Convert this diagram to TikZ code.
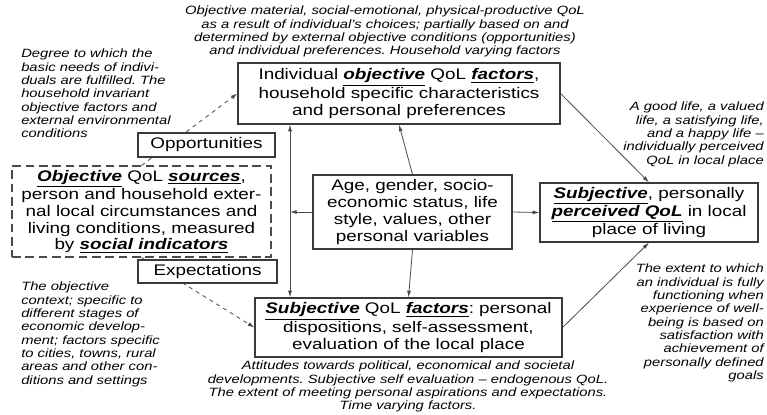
\documentclass[tikz,border=0pt]{standalone}
\usepackage{fontspec}
\setmainfont{Liberation Sans}[FakeStretch=1.23]
\usepackage{tikz}
\usetikzlibrary{arrows.meta}
\usetikzlibrary{positioning}

\definecolor{boxgray}{HTML}{3A3A3A}
\definecolor{linegray}{HTML}{4A4A4A}
\newcommand{\kw}[1]{\underline{\textbf{\textit{#1}}}}
\frenchspacing

\begin{document}
\begin{tikzpicture}[x=0.75pt, y=-0.75pt,
		>={Latex[length=5pt,width=3pt]},
		qolbox/.style={draw=boxgray, line width=0.9pt, fill=white, align=center, inner sep=2pt, font=\fontsize{11.5}{12.6}\selectfont},
		note/.style={inner sep=0pt, font=\fontsize{9}{10}\selectfont\itshape},
		link/.style={draw=linegray, line width=0.6pt, ->}]
				\useasboundingbox (0,0) rectangle (767,414);
				
				\node[qolbox, minimum width=241.5pt, minimum height=45.75pt] (obj) at (399,93.5) {Individual \kw{objective} QoL \kw{factors},\\household specific characteristics\\and personal preferences};
				\node[qolbox, draw=linegray, line width=0.8pt, dash pattern=on 6.5pt off 3.5pt, minimum width=194.25pt, minimum height=68.25pt] (src) at (141.5,211.5) {\kw{Objective} QoL \kw{sources},\\person and household exter-\\nal local circumstances and\\living conditions, measured\\by \kw{social indicators}};
				\node[qolbox, minimum width=149.25pt, minimum height=55.5pt] (age) at (412.5,212) {Age, gender, socio-\\economic status, life\\style, values, other\\personal variables};
				\node[qolbox, minimum width=163.5pt, minimum height=44.25pt] (perc) at (649,212.5) {\kw{Subjective}, personally\\\kw{perceived QoL} in local\\place of living};
				\node[qolbox, minimum width=230.25pt, minimum height=44.25pt] (subj) at (408.5,327.5) {\kw{Subjective} QoL \kw{factors}: personal\\dispositions, self-assessment,\\evaluation of the local place};
				\coordinate (vx) at (290,0);
				
				\draw[link, dashed] (src.north) -- (obj.west);
				\draw[link, dashed] (src.south) -- (subj.west);
				\node[qolbox, minimum width=102.75pt, minimum height=18pt] (opp) at (206.5,145) {Opportunities};
				\node[qolbox, minimum width=104.25pt, minimum height=17.25pt] (expt) at (207.5,271.5) {Expectations};
				
				\draw[link, <->] (obj.south -| vx) -- (subj.north -| vx);
				\draw[link] (age.west) -- (age.west -| vx);
				\draw[link] (age.north) -- (obj.south);
				\draw[link] (age.south) -- (subj.north);
				\draw[link] (age.east) -- (perc.west);
				\draw[link] (obj.east) -- (perc.north);
				\draw[link] (subj.east) -- (perc.south);
				
				\node[note, anchor=north west, align=left] (needs) at (21,49) {Degree to which the\\basic needs of indivi-\\duals are fulfilled. The\\household invariant\\objective factors and\\external environmental\\conditions};
				\node[note, anchor=north, align=center] (material) at (385,6) {Objective material, social-emotional, physical-productive QoL\\as a result of individual’s choices; partially based on and\\determined by external objective conditions (opportunities)\\and individual preferences. Household varying factors};
				\node[note, anchor=north east, align=right] (goodlife) at (764,102) {A good life, a valued\\life, a satisfying life,\\and a happy life –\\individually perceived\\QoL in local place};
				\node[note, anchor=north west, align=left] (context) at (21,282) {The objective\\context; specific to\\different stages of\\economic develop-\\ment; factors specific\\to cities, towns, rural\\areas and other con-\\ditions and settings};
				\node[note, anchor=north, align=center] (attitudes) at (408,361) {Attitudes towards political, economical and societal\\developments. Subjective self evaluation – endogenous QoL.\\The extent of meeting personal aspirations and expectations.\\Time varying factors.};
				\node[note, anchor=north east, align=right] (extent) at (764,264) {The extent to which\\an individual is fully\\functioning when\\experience of well-\\being is based on\\satisfaction with\\achievement of\\personally defined\\goals};
			\end{tikzpicture}
\end{document}
